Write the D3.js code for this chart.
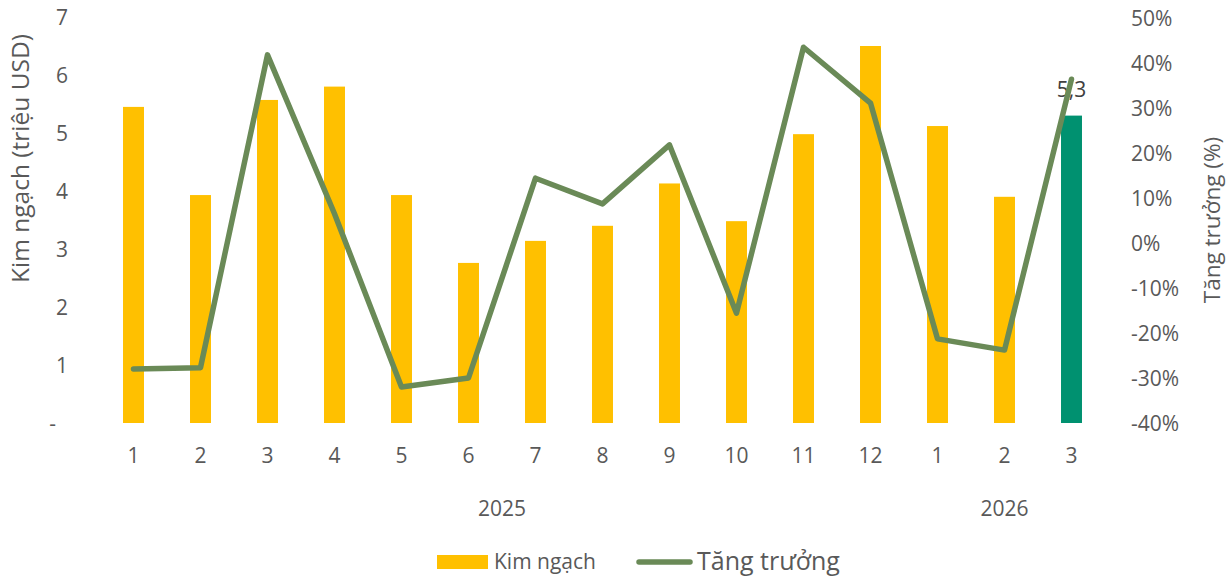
<!DOCTYPE html>
<html>
<head>
<meta charset="utf-8">
<script src="https://cdn.jsdelivr.net/npm/d3@7"></script>
<style>
  body { margin: 0; background: #fff; }
  svg text { font-family: "Open Sans", sans-serif; fill: #595959; }
</style>
</head>
<body>
<div id="chart"></div>
<script>
// Data
const months = ["1", "2", "3", "4", "5", "6", "7", "8", "9", "10", "11", "12", "1", "2", "3"];
const years = ["2025", "2025", "2025", "2025", "2025", "2025", "2025", "2025", "2025", "2025", "2025", "2025", "2026", "2026", "2026"];
const kimNgach = [5.45, 3.93, 5.57, 5.80, 3.93, 2.76, 3.14, 3.40, 4.13, 3.48, 4.98, 6.50, 5.12, 3.90, 5.30];
const tangTruong = [-28.0, -27.7, 41.8, 6.5, -32.0, -30.0, 14.4, 8.7, 21.8, -15.6, 43.5, 31.1, -21.3, -23.8, 36.4];
const leftTicks = [0, 1, 2, 3, 4, 5, 6, 7];
const rightTicks = [-40, -30, -20, -10, 0, 10, 20, 30, 40, 50];

const width = 1226, height = 577;
const margin = { top: 17, right: 121, bottom: 154, left: 100 };

const svg = d3.select("#chart")
    .append("svg")
    .attr("width", width)
    .attr("height", height);

const data = months.map((m, i) => ({ key: i, month: m, year: years[i], value: kimNgach[i], growth: tangTruong[i] / 100 }));

const x = d3.scaleBand()
    .domain(data.map(d => d.key))
    .range([margin.left, width - margin.right])
    .paddingInner(0.687)
    .paddingOuter(0.3435);

const y = d3.scaleLinear()
    .domain([0, 7])
    .range([height - margin.bottom, margin.top]);

const y2 = d3.scaleLinear()
    .domain([-0.4, 0.5])
    .range([height - margin.bottom, margin.top + 1]);

// bars
svg.append("g")
    .selectAll("rect")
    .data(data)
    .enter()
    .append("rect")
    .attr("x", d => x(d.key))
    .attr("y", d => y(d.value))
    .attr("width", x.bandwidth())
    .attr("height", d => y(0) - y(d.value))
    .attr("fill", (d, i) => i === data.length - 1 ? "#009170" : "#FFC000");

// left axis
const leftAxis = svg.append("g")
    .attr("transform", `translate(${margin.left - 24},0)`)
    .call(d3.axisLeft(y).tickValues(leftTicks).tickSize(0).tickPadding(8)
        .tickFormat(d => d === 0 ? "-" : d));
leftAxis.select(".domain").remove();
leftAxis.selectAll("text")
    .style("font-size", "21px")
    .attr("dx", d => d === 0 ? -12 : 0)
    .attr("dy", "0.35em");

// right axis, plain hyphen like the original
const pct = d => Math.round(d * 100) + "%";
const rightAxis = svg.append("g")
    .attr("transform", `translate(${width - margin.right + 18},0)`)
    .call(d3.axisRight(y2).tickValues(rightTicks.map(t => t / 100)).tickSize(0).tickPadding(8)
        .tickFormat(pct));
rightAxis.select(".domain").remove();
rightAxis.selectAll("text")
    .style("font-size", "21px")
    .attr("dy", "0.35em");

// month labels
const xAxis = svg.append("g")
    .attr("transform", `translate(0,${height - margin.bottom})`)
    .call(d3.axisBottom(x).tickSize(0).tickPadding(25).tickFormat(k => months[k]));
xAxis.select(".domain").remove();
xAxis.selectAll("text")
    .style("font-size", "21px");

// year labels
const yearGroups = d3.groups(data, d => d.year);
svg.append("g")
    .selectAll("text")
    .data(yearGroups)
    .enter()
    .append("text")
    .attr("x", g => (x(g[1][0].key) + x(g[1][g[1].length - 1].key) + x.bandwidth()) / 2)
    .attr("y", 516)
    .attr("text-anchor", "middle")
    .style("font-size", "21px")
    .text(g => g[0]);

// axis titles
svg.append("text")
    .attr("transform", `translate(29,${(27 + 290) / 2}) rotate(-90)`)
    .attr("text-anchor", "middle")
    .style("font-size", "24.5px")
    .text("Kim ngạch (triệu USD)");

svg.append("text")
    .attr("transform", `translate(1220,${(133 + 307) / 2}) rotate(-90)`)
    .attr("text-anchor", "middle")
    .style("font-size", "22.5px")
    .text("Tăng trưởng (%)");

// data label on last bar
const last = data[data.length - 1];
svg.append("text")
    .attr("x", x(last.key) + x.bandwidth() / 2)
    .attr("y", y(last.value) - 19)
    .attr("text-anchor", "middle")
    .style("font-size", "21px")
    .style("fill", "#404040")
    .text(d3.format(".1f")(last.value).replace(".", ","));

// growth line
const line = d3.line()
    .x(d => x(d.key) + x.bandwidth() / 2)
    .y(d => y2(d.growth));

svg.append("path")
    .datum(data)
    .attr("d", line)
    .attr("fill", "none")
    .attr("stroke", "#6A8A57")
    .attr("stroke-width", 5.5)
    .attr("stroke-linejoin", "round")
    .attr("stroke-linecap", "round");

// legend
const legend = svg.append("g");
legend.append("rect")
    .attr("x", 437).attr("y", 555)
    .attr("width", 51).attr("height", 14)
    .attr("fill", "#FFC000");
legend.append("text")
    .attr("x", 494).attr("y", 569)
    .style("font-size", "21px")
    .text("Kim ngạch");
legend.append("line")
    .attr("x1", 639).attr("x2", 690)
    .attr("y1", 562).attr("y2", 562)
    .attr("stroke", "#6A8A57")
    .attr("stroke-width", 5.5)
    .attr("stroke-linecap", "round");
legend.append("text")
    .attr("x", 697).attr("y", 570)
    .style("font-size", "25px")
    .text("Tăng trưởng");
</script>
</body>
</html>
